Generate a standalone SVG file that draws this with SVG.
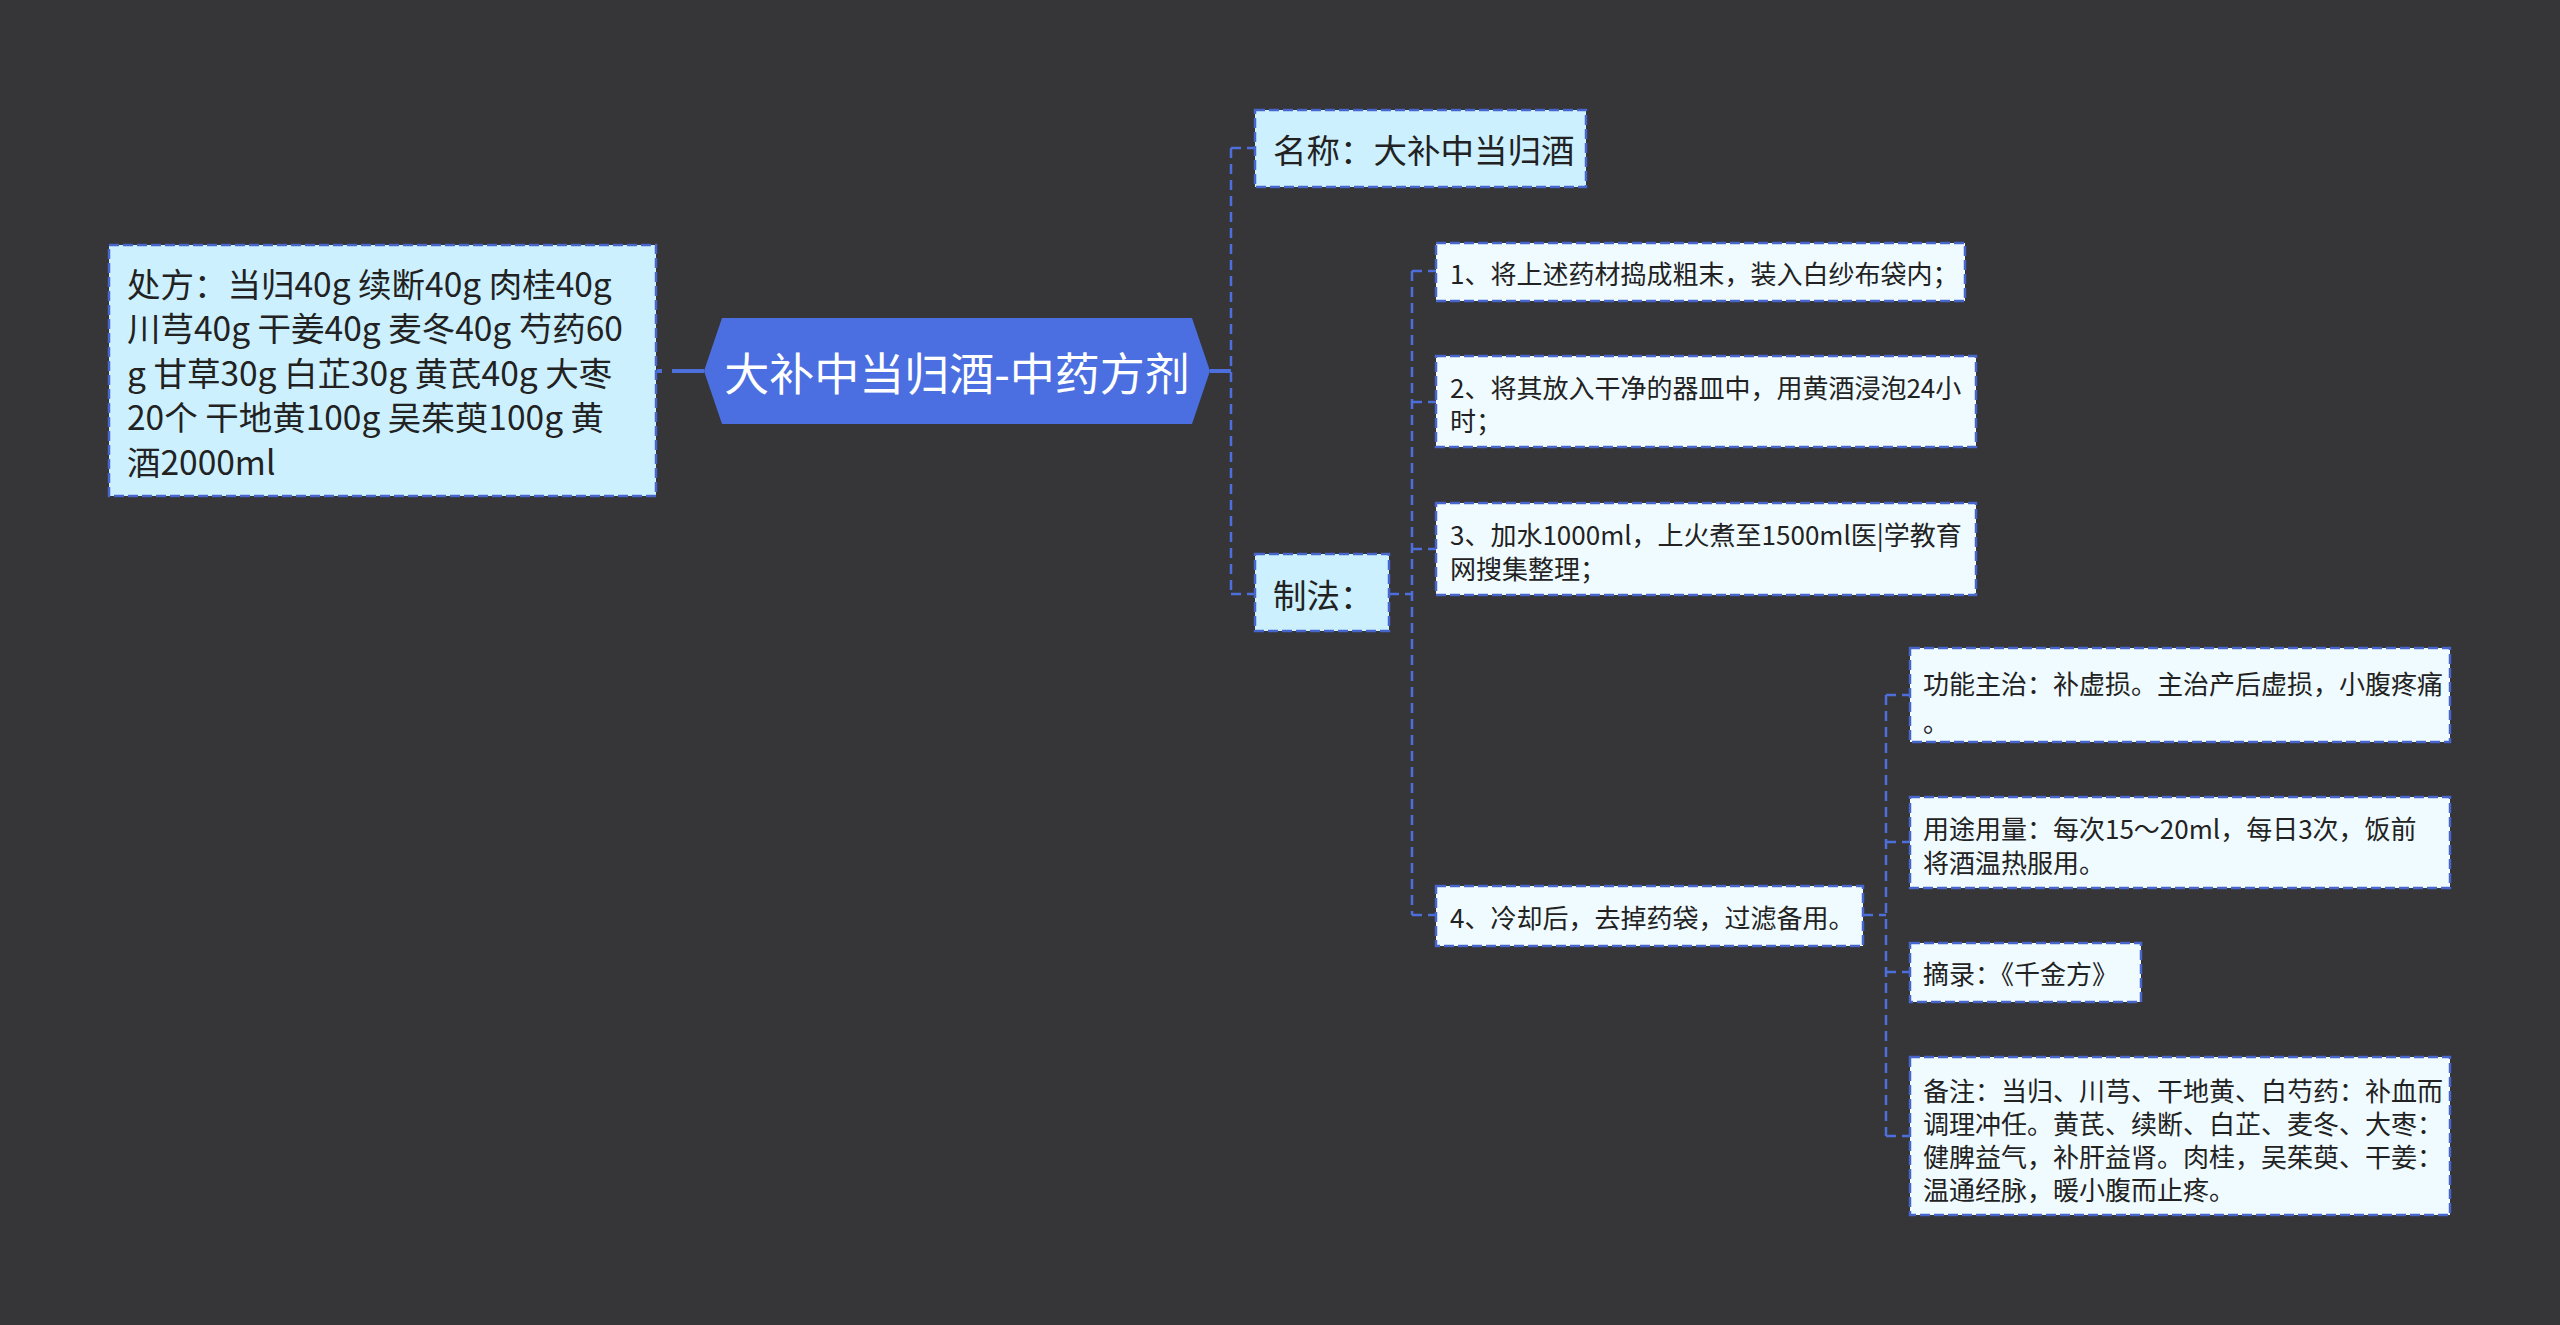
<svg xmlns="http://www.w3.org/2000/svg" width="2560" height="1325" viewBox="0 0 2560 1325">
<style>
.bg{fill:#363537}
.b1{fill:#ccf0fe;stroke:#4766cc;stroke-width:2.5;stroke-dasharray:10 4}
.b3{fill:#f0fbff;stroke:#4766cc;stroke-width:2.5;stroke-dasharray:10 4}
.t{font-family:"Noto Sans CJK SC","Noto Sans",sans-serif;fill:#222222;dominant-baseline:central}
.t1{font-size:33.5px}
.t3{font-size:26px}
.tc{font-family:"Noto Sans CJK SC","Noto Sans",sans-serif;font-size:45px;fill:#ffffff;dominant-baseline:central;text-anchor:middle}
.c{fill:none;stroke:#4d6fdc;stroke-width:2.5;stroke-dasharray:10 6}
.cs{fill:none;stroke:#4d6fdc;stroke-width:4}
</style>
<rect class="bg" x="0" y="0" width="2560" height="1325"/>
<g id="connectors">
<line class="cs" x1="704" y1="371" x2="657" y2="371" stroke-dasharray="32 10"/>
<line class="cs" x1="1210" y1="371" x2="1231" y2="371"/>
<path class="c" d="M1231 148 V594 M1231 148 H1255 M1231 594 H1255"/>
<path class="c" d="M1389 594 H1412 M1412 271 V915 M1412 271 H1436 M1412 402 H1436 M1412 549 H1436 M1412 915 H1436"/>
<path class="c" d="M1863 915 H1886 M1886 695 V1136 M1886 695 H1910 M1886 842 H1910 M1886 972 H1910 M1886 1136 H1910"/>
</g>
<g id="node-center">
<polygon points="704,371 722,318 1192,318 1210,371 1192,424 722,424" fill="#4b6fe0"/>
<text class="tc" x="957" y="371">大补中当归酒-中药方剂</text>
</g>
<g id="node-chufang">
<rect class="b1" x="109" y="245" width="547" height="251"/>
<text class="t t1" x="127" y="282">处方：当归40g 续断40g 肉桂40g</text>
<text class="t t1" x="127" y="326.5">川芎40g 干姜40g 麦冬40g 芍药60</text>
<text class="t t1" x="127" y="371">g 甘草30g 白芷30g 黄芪40g 大枣</text>
<text class="t t1" x="127" y="415.5">20个 干地黄100g 吴茱萸100g 黄</text>
<text class="t t1" x="127" y="460">酒2000ml</text>
</g>
<g id="node-mingcheng">
<rect class="b1" x="1255" y="110" width="331" height="77"/>
<text class="t t1" x="1273" y="148.5">名称：大补中当归酒</text>
</g>
<g id="node-zhifa">
<rect class="b1" x="1255" y="554" width="134" height="77"/>
<text class="t t1" x="1273" y="593">制法：</text>
</g>
<g id="node-step1">
<rect class="b3" x="1436" y="243" width="529" height="58"/>
<text class="t t3" x="1450" y="272">1、将上述药材捣成粗末，装入白纱布袋内；</text>
</g>
<g id="node-step2">
<rect class="b3" x="1436" y="356" width="540" height="91"/>
<text class="t t3" x="1450" y="386">2、将其放入干净的器皿中，用黄酒浸泡24小</text>
<text class="t t3" x="1450" y="419">时；</text>
</g>
<g id="node-step3">
<rect class="b3" x="1436" y="503" width="540" height="92"/>
<text class="t t3" x="1450" y="533">3、加水1000ml，上火煮至1500ml医|学教育</text>
<text class="t t3" x="1450" y="567">网搜集整理；</text>
</g>
<g id="node-step4">
<rect class="b3" x="1436" y="886" width="427" height="60"/>
<text class="t t3" x="1450" y="916">4、冷却后，去掉药袋，过滤备用。</text>
</g>
<g id="node-gongneng">
<rect class="b3" x="1910" y="648" width="540" height="94"/>
<text class="t t3" x="1923" y="682">功能主治：补虚损。主治产后虚损，小腹疼痛</text>
<text class="t t3" x="1923" y="720">。</text>
</g>
<g id="node-yongtu">
<rect class="b3" x="1910" y="797" width="540" height="91"/>
<text class="t t3" x="1923" y="827">用途用量：每次15～20ml，每日3次，饭前</text>
<text class="t t3" x="1923" y="861">将酒温热服用。</text>
</g>
<g id="node-zhailu">
<rect class="b3" x="1910" y="943" width="231" height="59"/>
<text class="t t3" x="1923" y="972">摘录：《千金方》</text>
</g>
<g id="node-beizhu">
<rect class="b3" x="1910" y="1057" width="540" height="158"/>
<text class="t t3" x="1923" y="1089">备注：当归、川芎、干地黄、白芍药：补血而</text>
<text class="t t3" x="1923" y="1122">调理冲任。黄芪、续断、白芷、麦冬、大枣：</text>
<text class="t t3" x="1923" y="1155">健脾益气，补肝益肾。肉桂，吴茱萸、干姜：</text>
<text class="t t3" x="1923" y="1188">温通经脉，暖小腹而止疼。</text>
</g>
</svg>
